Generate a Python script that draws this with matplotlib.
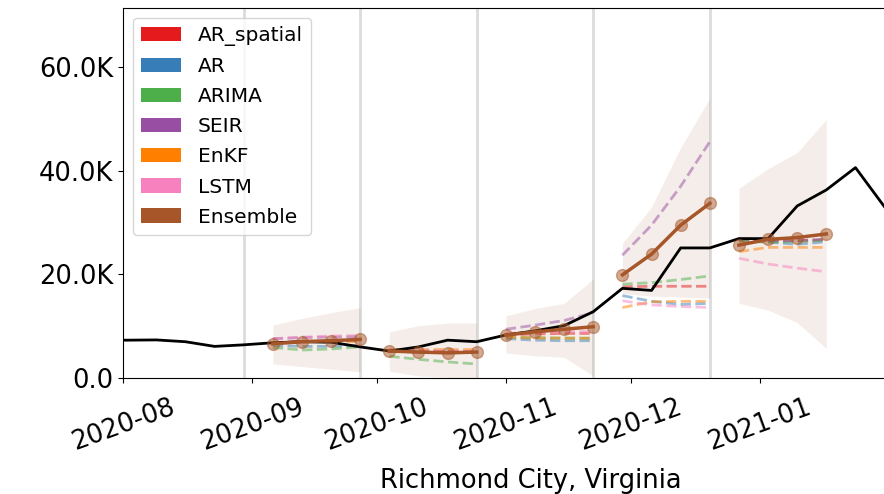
import matplotlib
matplotlib.use('Agg')
import matplotlib.pyplot as plt
import matplotlib.dates as mdates
import matplotlib.patches as mpatches
from matplotlib.ticker import FuncFormatter
import numpy as np
import pandas as pd

# ground truth (weekly new cases, in thousands)
gt_dates = pd.date_range('2020-07-26', '2021-01-31', freq='7D')
gt_cases = [7.3, 7.3, 7.35, 7.0, 6.1, 6.4, 6.8, 7.0, 6.9, 6.0, 5.2, 6.0, 7.3, 7.0,
            8.3, 9.1, 10.1, 12.8, 17.3, 16.9, 25.1, 25.1, 26.9, 26.9, 33.2, 36.3,
            40.6, 33.0]

# forecast windows (4 weeks each) and the dates when they were issued
forecast_starts = ['2020-09-06', '2020-10-04', '2020-11-01', '2020-11-29', '2020-12-27']
issue_dates = ['2020-08-30', '2020-09-27', '2020-10-25', '2020-11-22', '2020-12-20']

# model forecasts per window (thousands)
ar_spatial = [[6.8, 7.1, 7.2, 7.3], [5.3, 5.2, 5.1, 5.1], [8.3, 8.5, 8.6, 8.6],
              [17.6, 17.7, 17.7, 17.7], [26.5, 26.4, 26.5, 26.7]]
ar = [[6.3, 6.1, 6.1, 6.3], [5.2, 5.0, 4.9, 4.9], [7.6, 7.3, 7.2, 7.2],
      [15.9, 14.8, 14.2, 14.4], [26.8, 26.2, 25.8, 26.3]]
arima = [[5.9, 5.4, 5.6, 6.0], [4.2, 3.6, 3.1, 2.7], [7.9, 7.8, 7.7, 7.7],
         [18.1, 18.4, 19.0, 19.7], [26.4, 26.2, 26.3, 26.6]]
seir = [[7.6, 7.8, 7.9, 8.0], [5.3, 5.2, 5.1, 5.1], [9.4, 10.2, 11.1, 12.6],
        [23.7, 29.5, 37.0, 45.6], [26.9, 26.6, 26.5, 26.8]]
enkf = [[6.7, 7.0, 7.1, 7.0], [5.5, 5.5, 5.5, 5.5], [7.9, 7.7, 7.7, 7.65],
        [13.6, 14.7, 14.8, 14.8], [24.4, 25.2, 25.2, 25.2]]
lstm = [[7.5, 7.9, 8.1, 8.2], [5.4, 5.3, 5.2, 5.1], [8.6, 8.8, 8.9, 9.0],
        [14.9, 14.1, 13.8, 13.6], [23.1, 22.0, 21.2, 20.5]]
ensemble = [[6.6, 7.0, 7.2, 7.45], [5.2, 5.0, 4.85, 5.0], [8.3, 8.9, 9.4, 9.9],
            [19.9, 23.9, 29.5, 33.7], [25.65, 26.75, 27.1, 27.8]]
ens_low = [[2.7, 2.2, 1.7, 1.2], [1.3, 0.4, 0.1, 0.0], [4.8, 4.3, 4.0, 0.4],
           [16.3, 15.8, 15.6, 15.4], [14.4, 13.1, 10.7, 5.7]]
ens_high = [[10.2, 11.5, 12.6, 13.6], [8.9, 10.1, 10.6, 10.6], [12.0, 13.4, 14.4, 19.1],
            [26.0, 33.0, 44.5, 54.0], [36.6, 40.4, 43.5, 49.9]]

model_names = ['AR_spatial', 'AR', 'ARIMA', 'SEIR', 'EnKF', 'LSTM']
model_data = [ar_spatial, ar, arima, seir, enkf, lstm]
colors = ['#e41a1c', '#377eb8', '#4daf4a', '#984ea3', '#ff7f00', '#f781bf']
ens_color = '#a65628'

fig = plt.figure(figsize=(8.84, 4.94), dpi=100)
ax = fig.add_axes([123 / 884, 116 / 494, 763 / 884, 370 / 494])

for d in issue_dates:
    ax.axvline(pd.Timestamp(d), color='#dcdcdc', lw=2, zorder=1)

for w, start in enumerate(forecast_starts):
    dates = pd.date_range(start, periods=4, freq='7D')
    ax.fill_between(dates, ens_low[w], ens_high[w], color=ens_color, alpha=0.1,
                    lw=0, zorder=2)
    for vals, c in zip(model_data, colors):
        ax.plot(dates, vals[w], ls='--', color=c, lw=2, alpha=0.5, zorder=3)
    ax.plot(dates, ensemble[w], 'o', color=ens_color, ms=8.5, alpha=0.5, zorder=5)
    ax.plot(dates, ensemble[w], '-', color=ens_color, lw=2.5, zorder=6)

ax.plot(gt_dates, gt_cases, color='black', lw=2, zorder=4)

ax.set_xlim(pd.Timestamp('2020-08-01'), pd.Timestamp('2021-01-31 08:00'))
ax.set_ylim(0, 71.4)
ax.set_yticks([0, 20, 40, 60])
ax.yaxis.set_major_formatter(FuncFormatter(lambda v, p: '0.0' if v == 0 else f'{v:.1f}K'))
ax.xaxis.set_major_locator(mdates.MonthLocator())
ax.xaxis.set_major_formatter(mdates.DateFormatter('%Y-%m'))
ax.tick_params(labelsize=18.5)
ax.tick_params(axis='x', pad=8)
plt.setp(ax.get_xticklabels(), rotation=20, ha='center')
ax.set_xlabel('Richmond City, Virginia', fontsize=18.5)
ax.xaxis.set_label_coords(0.535, -0.243)

handles = [mpatches.Patch(facecolor=c, label=n) for n, c in zip(model_names, colors)]
handles.append(mpatches.Patch(facecolor=ens_color, label='Ensemble'))
ax.legend(handles=handles, loc='upper left', fontsize=14.5, labelspacing=0.55)

fig.savefig('out.png', dpi=100)
